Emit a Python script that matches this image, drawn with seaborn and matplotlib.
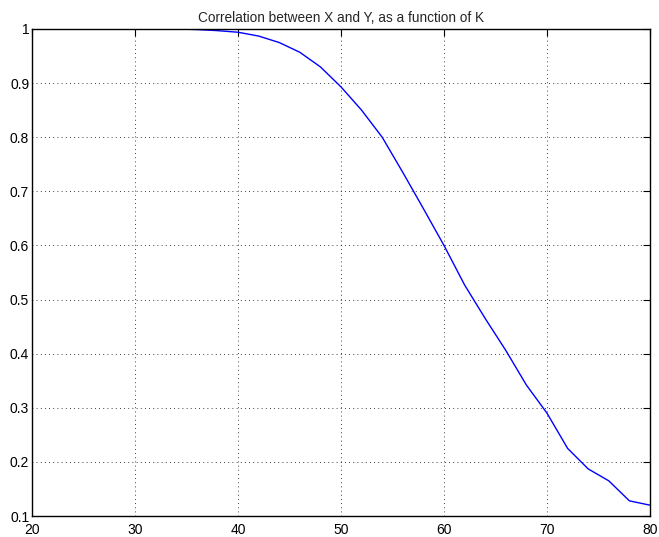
import numpy as np
import pandas as pd
import matplotlib
matplotlib.use("Agg")
import matplotlib.pyplot as plt
import seaborn as sns

# values, K stepping by 2
k_values = [20, 22, 24, 26, 28, 30, 32, 34, 36, 38, 40, 42, 44, 46, 48, 50,
            52, 54, 56, 58, 60, 62, 64, 66, 68, 70, 72, 74, 76, 78, 80]
corr_values = [1.0, 1.0, 1.0, 1.0, 1.0, 1.0, 1.0, 1.0, 0.999, 0.997, 0.994,
               0.987, 0.975, 0.957, 0.930, 0.893, 0.850, 0.800, 0.735, 0.668,
               0.600, 0.527, 0.465, 0.406, 0.342, 0.290, 0.225, 0.187, 0.165,
               0.128, 0.120]

df = pd.DataFrame({"K": k_values, "corr": corr_values})

sns.set_style("white")
plt.rcParams["font.family"] = ["Liberation Sans", "DejaVu Sans"]

fig = plt.figure(figsize=(6.59, 5.37), dpi=100)
ax = fig.add_axes([32 / 659, 21 / 537, 618 / 659, 487 / 537])

sns.lineplot(data=df, x="K", y="corr", ax=ax, color="#0000ff", linewidth=1)

ax.set_xlim(20, 80)
ax.set_ylim(0.1, 1)
ax.set_xticks(np.arange(20, 81, 10))
ax.set_yticks(np.round(np.arange(0.1, 1.01, 0.1), 1))
ax.set_yticklabels(["0.1", "0.2", "0.3", "0.4", "0.5", "0.6", "0.7", "0.8", "0.9", "1"])
ax.set_xlabel("")
ax.set_ylabel("")
ax.set_title("Correlation between X and Y, as a function of K", fontsize=9.8, pad=5)

ax.grid(True, color="black", linestyle=(0, (1, 4)), linewidth=0.6)
ax.tick_params(direction="in", length=5, width=0.8, top=True, right=True,
               labelsize=10, colors="black")
ax.tick_params(axis="x", pad=5)
ax.tick_params(axis="y", pad=2)
for s in ax.spines.values():
    s.set_color("black")
    s.set_linewidth(1)

fig.savefig("out.png", dpi=100)
